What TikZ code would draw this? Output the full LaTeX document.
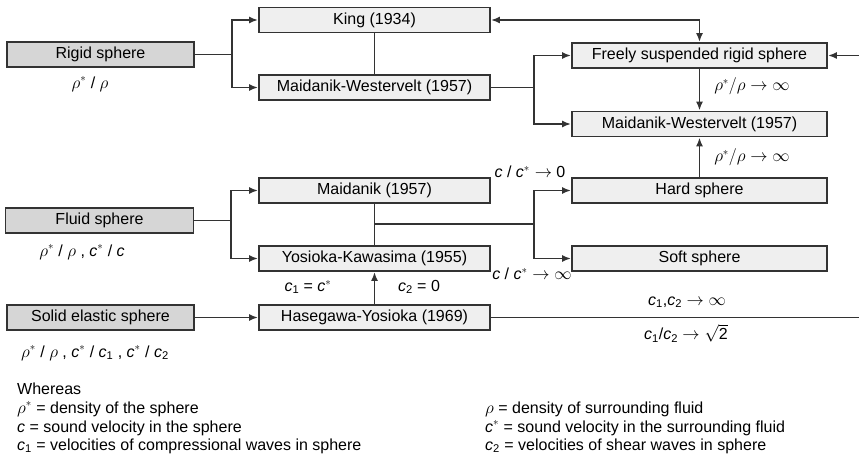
\documentclass[tikz,border=0pt]{standalone}
\usepackage{fontspec}
\setmainfont{Liberation Sans}
\usetikzlibrary{arrows.meta}
\definecolor{boxdark}{HTML}{D6D6D6}
\definecolor{boxlight}{HTML}{EFEFEF}
\definecolor{linec}{HTML}{333333}
\newcommand{\ci}{\textit{c}}
\newcommand{\cs}[1]{\textit{c}\textsubscript{#1}}
\begin{document}
\begin{tikzpicture}[x=1pt,y=-1pt,
  font=\fontsize{16}{18}\selectfont,
  basebox/.style={draw=linec,line width=1.8pt,minimum height=25pt,inner sep=0pt},
  leftbox/.style={basebox,fill=boxdark,minimum width=187pt},
  midbox/.style={basebox,fill=boxlight,minimum width=231pt},
  rightbox/.style={basebox,fill=boxlight,minimum width=255pt},
  conn/.style={draw=linec,line width=1.8pt},
  arr/.style={conn,-{Latex[length=9pt,width=7pt]}},
  lbl/.style={inner sep=0pt},
  legline/.style={inner sep=0pt,anchor=base west}]
\useasboundingbox (0,0) rectangle (859,462);
% boxes
\node[leftbox] (rigid) at (100.5,54.5) {Rigid sphere};
\node[midbox] (king) at (374.5,20) {King (1934)};
\node[midbox] (mwl) at (374.5,87.5) {Maidanik-Westervelt (1957)};
\node[rightbox] (free) at (699.5,55.5) {Freely suspended rigid sphere};
\node[rightbox] (mwr) at (699.5,124) {Maidanik-Westervelt (1957)};
\node[leftbox,minimum width=188pt] (fluid) at (99.5,220.5) {Fluid sphere};
\node[midbox] (maid) at (374.5,190.5) {Maidanik (1957)};
\node[midbox] (yosi) at (374.5,258.5) {Yosioka-Kawasima (1955)};
\node[rightbox] (hard) at (699.5,190.5) {Hard sphere};
\node[rightbox] (soft) at (699.5,258.5) {Soft sphere};
\node[leftbox] (solid) at (100.5,317.5) {Solid elastic sphere};
\node[midbox] (hase) at (374.5,317.5) {Hasegawa-Yosioka (1969)};
% helper coordinates
\coordinate (f1) at (232,54.5);
\coordinate (f2) at (534,87.5);
\coordinate (f3) at (231,220.5);
\coordinate (j1) at (374.5,224);
\coordinate (f4) at (534,224);
\coordinate (re1) at (859,55.5);
\coordinate (re2) at (859,317.5);
% connectors
\draw[conn] (rigid.east) -- (f1);
\draw[arr] (f1) |- (king.west);
\draw[arr] (f1) |- (mwl.west);
\draw[conn] (king.south) -- (mwl.north);
\draw[conn,{Latex[length=9pt,width=7pt]}-{Latex[length=9pt,width=7pt]}] (king.east) -| (free.north);
\draw[conn] (mwl.east) -- (f2);
\draw[arr] (f2) |- (free.west);
\draw[arr] (f2) |- (mwr.west);
\draw[arr] (free.south) -- (mwr.north);
\draw[arr] (hard.north) -- (mwr.south);
\draw[arr] (re1) -- (free.east);
\draw[conn] (fluid.east) -- (f3);
\draw[arr] (f3) |- (maid.west);
\draw[arr] (f3) |- (yosi.west);
\draw[conn] (maid.south) -- (yosi.north);
\draw[conn] (j1) -- (f4);
\draw[arr] (f4) |- (hard.west);
\draw[arr] (f4) |- (soft.west);
\draw[arr] (hase.north) -- (yosi.south);
\draw[arr] (solid.east) -- (hase.west);
\draw[conn] (hase.east) -- (re2);
% labels
\node[lbl] (l1) at (90,84) {$\rho^{*}$ / $\rho$};
\node[lbl] (l2) at (82,252) {$\rho^{*}$ / $\rho$ , \ci$^{*}$ / \ci};
\node[lbl] (l3) at (95,353) {$\rho^{*}$ / $\rho$ , \ci$^{*}$ / \cs{1} , \ci$^{*}$ / \cs{2}};
\node[lbl] (l4) at (752,86) {$\rho^{*}/\rho\rightarrow\infty$};
\node[lbl] (l5) at (752,157) {$\rho^{*}/\rho\rightarrow\infty$};
\node[lbl] (l6) at (530,172) {\ci{} / \ci$^{*}\rightarrow$ 0};
\node[lbl] (l7) at (532,274) {\ci{} / \ci$^{*}\rightarrow\infty$};
\node[lbl] (l8) at (308,287) {\cs{1} = \ci$^{*}$};
\node[lbl] (l9) at (419,287) {\cs{2} = 0};
\node[lbl] (l10) at (687,302) {\cs{1},\cs{2} $\rightarrow\infty$};
\node[lbl] (l11) at (686,333) {\cs{1}/\cs{2} $\rightarrow\sqrt{\mbox{2}}$};
% legend
\node[legline] (lga) at (17,394) {Whereas};
\node[legline] (lgb) at (17,413) {$\rho^{*}$ = density of the sphere};
\node[legline] (lgc) at (17,432) {\ci{} = sound velocity in the sphere};
\node[legline] (lgd) at (17,450) {\cs{1} = velocities of compressional waves in sphere};
\node[legline] (lge) at (485,413) {$\rho$ = density of surrounding fluid};
\node[legline] (lgf) at (485,432) {\ci$^{*}$ = sound velocity in the surrounding fluid};
\node[legline] (lgg) at (485,450) {\cs{2} = velocities of shear waves in sphere};
\end{tikzpicture}
\end{document}
